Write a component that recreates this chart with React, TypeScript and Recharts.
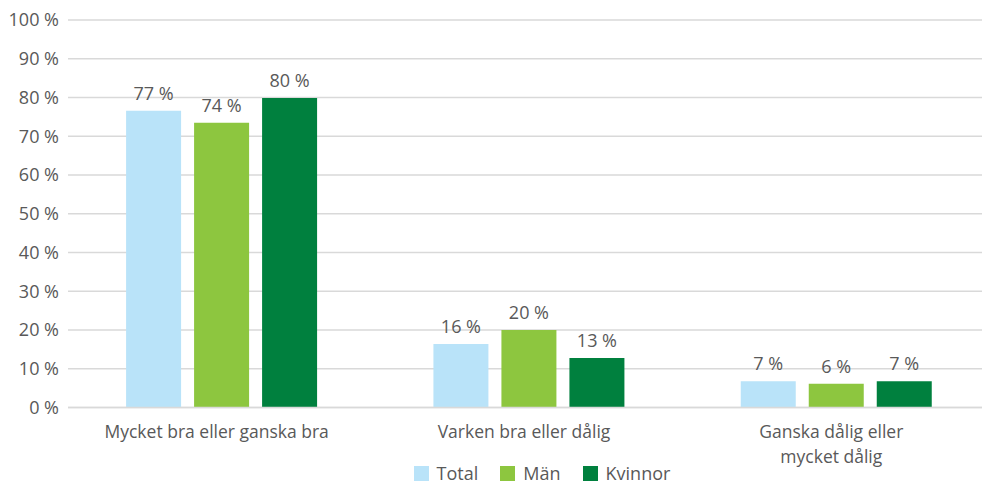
import React from "react";
import { BarChart, Bar, XAxis, YAxis, CartesianGrid, LabelList, Legend } from "recharts";

const categories = ["Mycket bra eller ganska bra", "Varken bra eller dålig", "Ganska dålig eller\nmycket dålig"];
const total = [76.6, 16.4, 6.8];
const man = [73.5, 20.0, 6.1];
const kvinnor = [79.9, 12.8, 6.8];
const yTicks = [0, 10, 20, 30, 40, 50, 60, 70, 80, 90, 100];
const seriesNames = ["Total", "Män", "Kvinnor"];
const colors = ["#B9E3F9", "#8DC63F", "#00803E"];

const data = categories.map((c, i) => ({ cat: c, Total: total[i], "Män": man[i], Kvinnor: kvinnor[i] }));

const FONT = "'Open Sans', sans-serif";
const GREY = "#595959";

const CatTick = (props: any) => {
  const { x, y, payload } = props;
  const lines = String(payload.value).split("\n");
  return (
    <g>
      {lines.map((l, i) => (
        <text key={i} x={x - 5} y={y + 22 + i * 25.5} textAnchor="middle" fill={GREY} fontSize={17.5} fontFamily={FONT}>
          {l}
        </text>
      ))}
    </g>
  );
};

const LegendContent = () => (
  <div style={{ display: "flex", justifyContent: "center", paddingLeft: 94, paddingTop: 3, height: 24, fontFamily: FONT, fontSize: 18, color: GREY, lineHeight: "22px" }}>
    {seriesNames.map((n, i) => (
      <div key={n} style={{ display: "flex", alignItems: "center", marginRight: i < 2 ? 22 : 0 }}>
        <span style={{ display: "inline-block", width: 15, height: 15, background: colors[i], marginRight: 8 }} />
        <span>{n}</span>
      </div>
    ))}
  </div>
);

export default function App() {
  return (
    <div style={{ position: "absolute", left: 0, top: 0, width: 982, height: 484, background: "#fff", overflow: "hidden" }}>
      <BarChart width={990} height={484} data={data} margin={{ top: 20, right: 0, left: 0, bottom: 0 }} barGap={13} barCategoryGap="18.9%">
        <CartesianGrid vertical={false} stroke="#D9D9D9" strokeWidth={1.5} />
        <XAxis dataKey="cat" tick={<CatTick />} tickLine={false} axisLine={{ stroke: "#D9D9D9", strokeWidth: 1.5 }} height={50.5} interval={0} />
        <YAxis
          domain={[0, 100]}
          ticks={yTicks}
          tickFormatter={(v: number) => `${v} %`}
          tickLine={false}
          axisLine={false}
          width={68}
          tickMargin={3}
          tick={{ fill: GREY, fontSize: 18, fontFamily: FONT }}
        />
        <Legend verticalAlign="bottom" height={26} content={<LegendContent />} />
        {seriesNames.map((n, i) => (
          <Bar key={n} dataKey={n} fill={colors[i]} isAnimationActive={false}>
            <LabelList
              dataKey={n}
              position="top"
              offset={11}
              formatter={(v: number) => `${Math.round(v)} %`}
              style={{ fill: GREY, fontSize: 18, fontFamily: FONT }}
            />
          </Bar>
        ))}
      </BarChart>
    </div>
  );
}
